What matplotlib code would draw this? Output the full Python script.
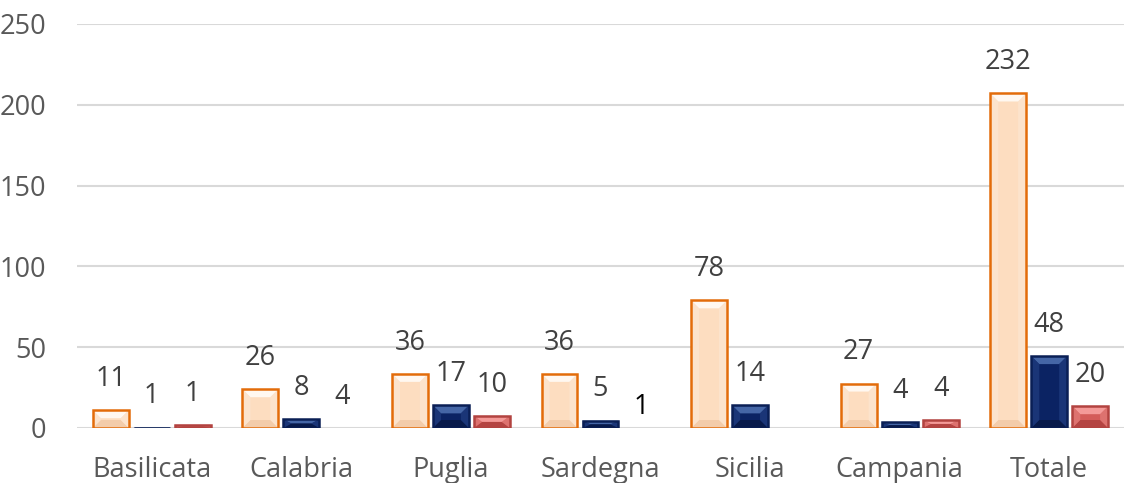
import matplotlib.pyplot as plt
from matplotlib.patches import Polygon, Rectangle
import numpy as np

plt.rcParams["font.family"] = ["Open Sans", "DejaVu Sans"]

categories = ["Basilicata", "Calabria", "Puglia", "Sardegna", "Sicilia", "Campania", "Totale"]

# bar heights as drawn in the picture
heights_a = [11, 24, 33.5, 33.5, 79, 27.5, 207]
heights_b = [0.3, 5.5, 14, 4.5, 14, 3.5, 44.5]
heights_c = [2, 0, 7.5, 0, 0, 5, 13.5]

# data label texts ("" = no label)
labels_a = ["11", "26", "36", "36", "78", "27", "232"]
labels_b = ["1", "8", "17", "5", "14", "4", "48"]
labels_c = ["1", "4", "10", "1", "", "4", "20"]

yticks = [0, 50, 100, 150, 200, 250]

# (face, top light, bottom shade, side, edge)
styles = [
    ("#FDDDC0", "#FFF8F1", "#F3CCAA", "#FCE6D2", "#E36C0A"),
    ("#0B2363", "#4566A6", "#081A4A", "#213D80", "#0A1F55"),
    ("#D45C59", "#F49A98", "#B44442", "#E27C79", "#B24340"),
]


def bevel_bar(ax, x, w, h, st, bx, by):
    face, light, shade, side, edge = st
    if h <= 0:
        return
    x0, x1, y0, y1 = x - w / 2, x + w / 2, 0, h
    b_y = min(by, h / 2)
    b_x = min(bx, w / 2)
    ax.add_patch(Rectangle((x0, y0), w, h, facecolor=face, edgecolor="none", zorder=3))
    ax.add_patch(Polygon([(x0, y1), (x1, y1), (x1 - b_x, y1 - b_y), (x0 + b_x, y1 - b_y)],
                         closed=True, facecolor=light, edgecolor="none", zorder=3))
    ax.add_patch(Polygon([(x0, y0), (x1, y0), (x1 - b_x, y0 + b_y), (x0 + b_x, y0 + b_y)],
                         closed=True, facecolor=shade, edgecolor="none", zorder=3))
    ax.add_patch(Polygon([(x0, y0), (x0, y1), (x0 + b_x, y1 - b_y), (x0 + b_x, y0 + b_y)],
                         closed=True, facecolor=side, edgecolor="none", alpha=0.7, zorder=3))
    ax.add_patch(Polygon([(x1, y0), (x1, y1), (x1 - b_x, y1 - b_y), (x1 - b_x, y0 + b_y)],
                         closed=True, facecolor=side, edgecolor="none", alpha=0.7, zorder=3))
    ax.add_patch(Rectangle((x0, y0), w, h, facecolor="none", edgecolor=edge,
                           linewidth=1.8, zorder=4))


fig = plt.figure(figsize=(11.24, 4.83), dpi=100)
ax = fig.add_axes([77 / 1124, 55 / 483, 1047 / 1124, 404 / 483])

x = np.arange(len(categories))
width = 0.24
step = 0.274
bx = 8 / 149.6
by = 8 / 1.616

series = [(heights_a, labels_a), (heights_b, labels_b), (heights_c, labels_c)]
for k, (hs, ls) in enumerate(series):
    for i in range(len(categories)):
        xc = x[i] + (k - 1) * step
        bevel_bar(ax, xc, width, hs[i], styles[k], bx, by)
        if ls[i]:
            color = "#404040"
            off = 22.5
            if k == 2 and hs[i] == 0 and categories[i] == "Sardegna":
                color = "#000000"
                off = 15
            ax.annotate(ls[i], xy=(xc, hs[i]), xytext=(0, off), textcoords="offset points",
                        ha="center", va="center", fontsize=19.5, color=color, zorder=5)

ax.set_xlim(-0.5, len(categories) - 0.5)
ax.set_ylim(0, 250)
ax.set_yticks(yticks)
ax.set_xticks(x)
ax.set_xticklabels(categories)
ax.grid(axis="y", color="#D9D9D9", linewidth=1.5, zorder=0)
ax.set_axisbelow(True)
for s in ax.spines.values():
    s.set_visible(False)
ax.tick_params(axis="both", length=0, labelsize=19.5, labelcolor="#595959")
ax.tick_params(axis="x", pad=20)
ax.tick_params(axis="y", pad=22)
for lab in ax.get_yticklabels():
    lab.set_horizontalalignment("right")

fig.savefig("out.png", dpi=100)
